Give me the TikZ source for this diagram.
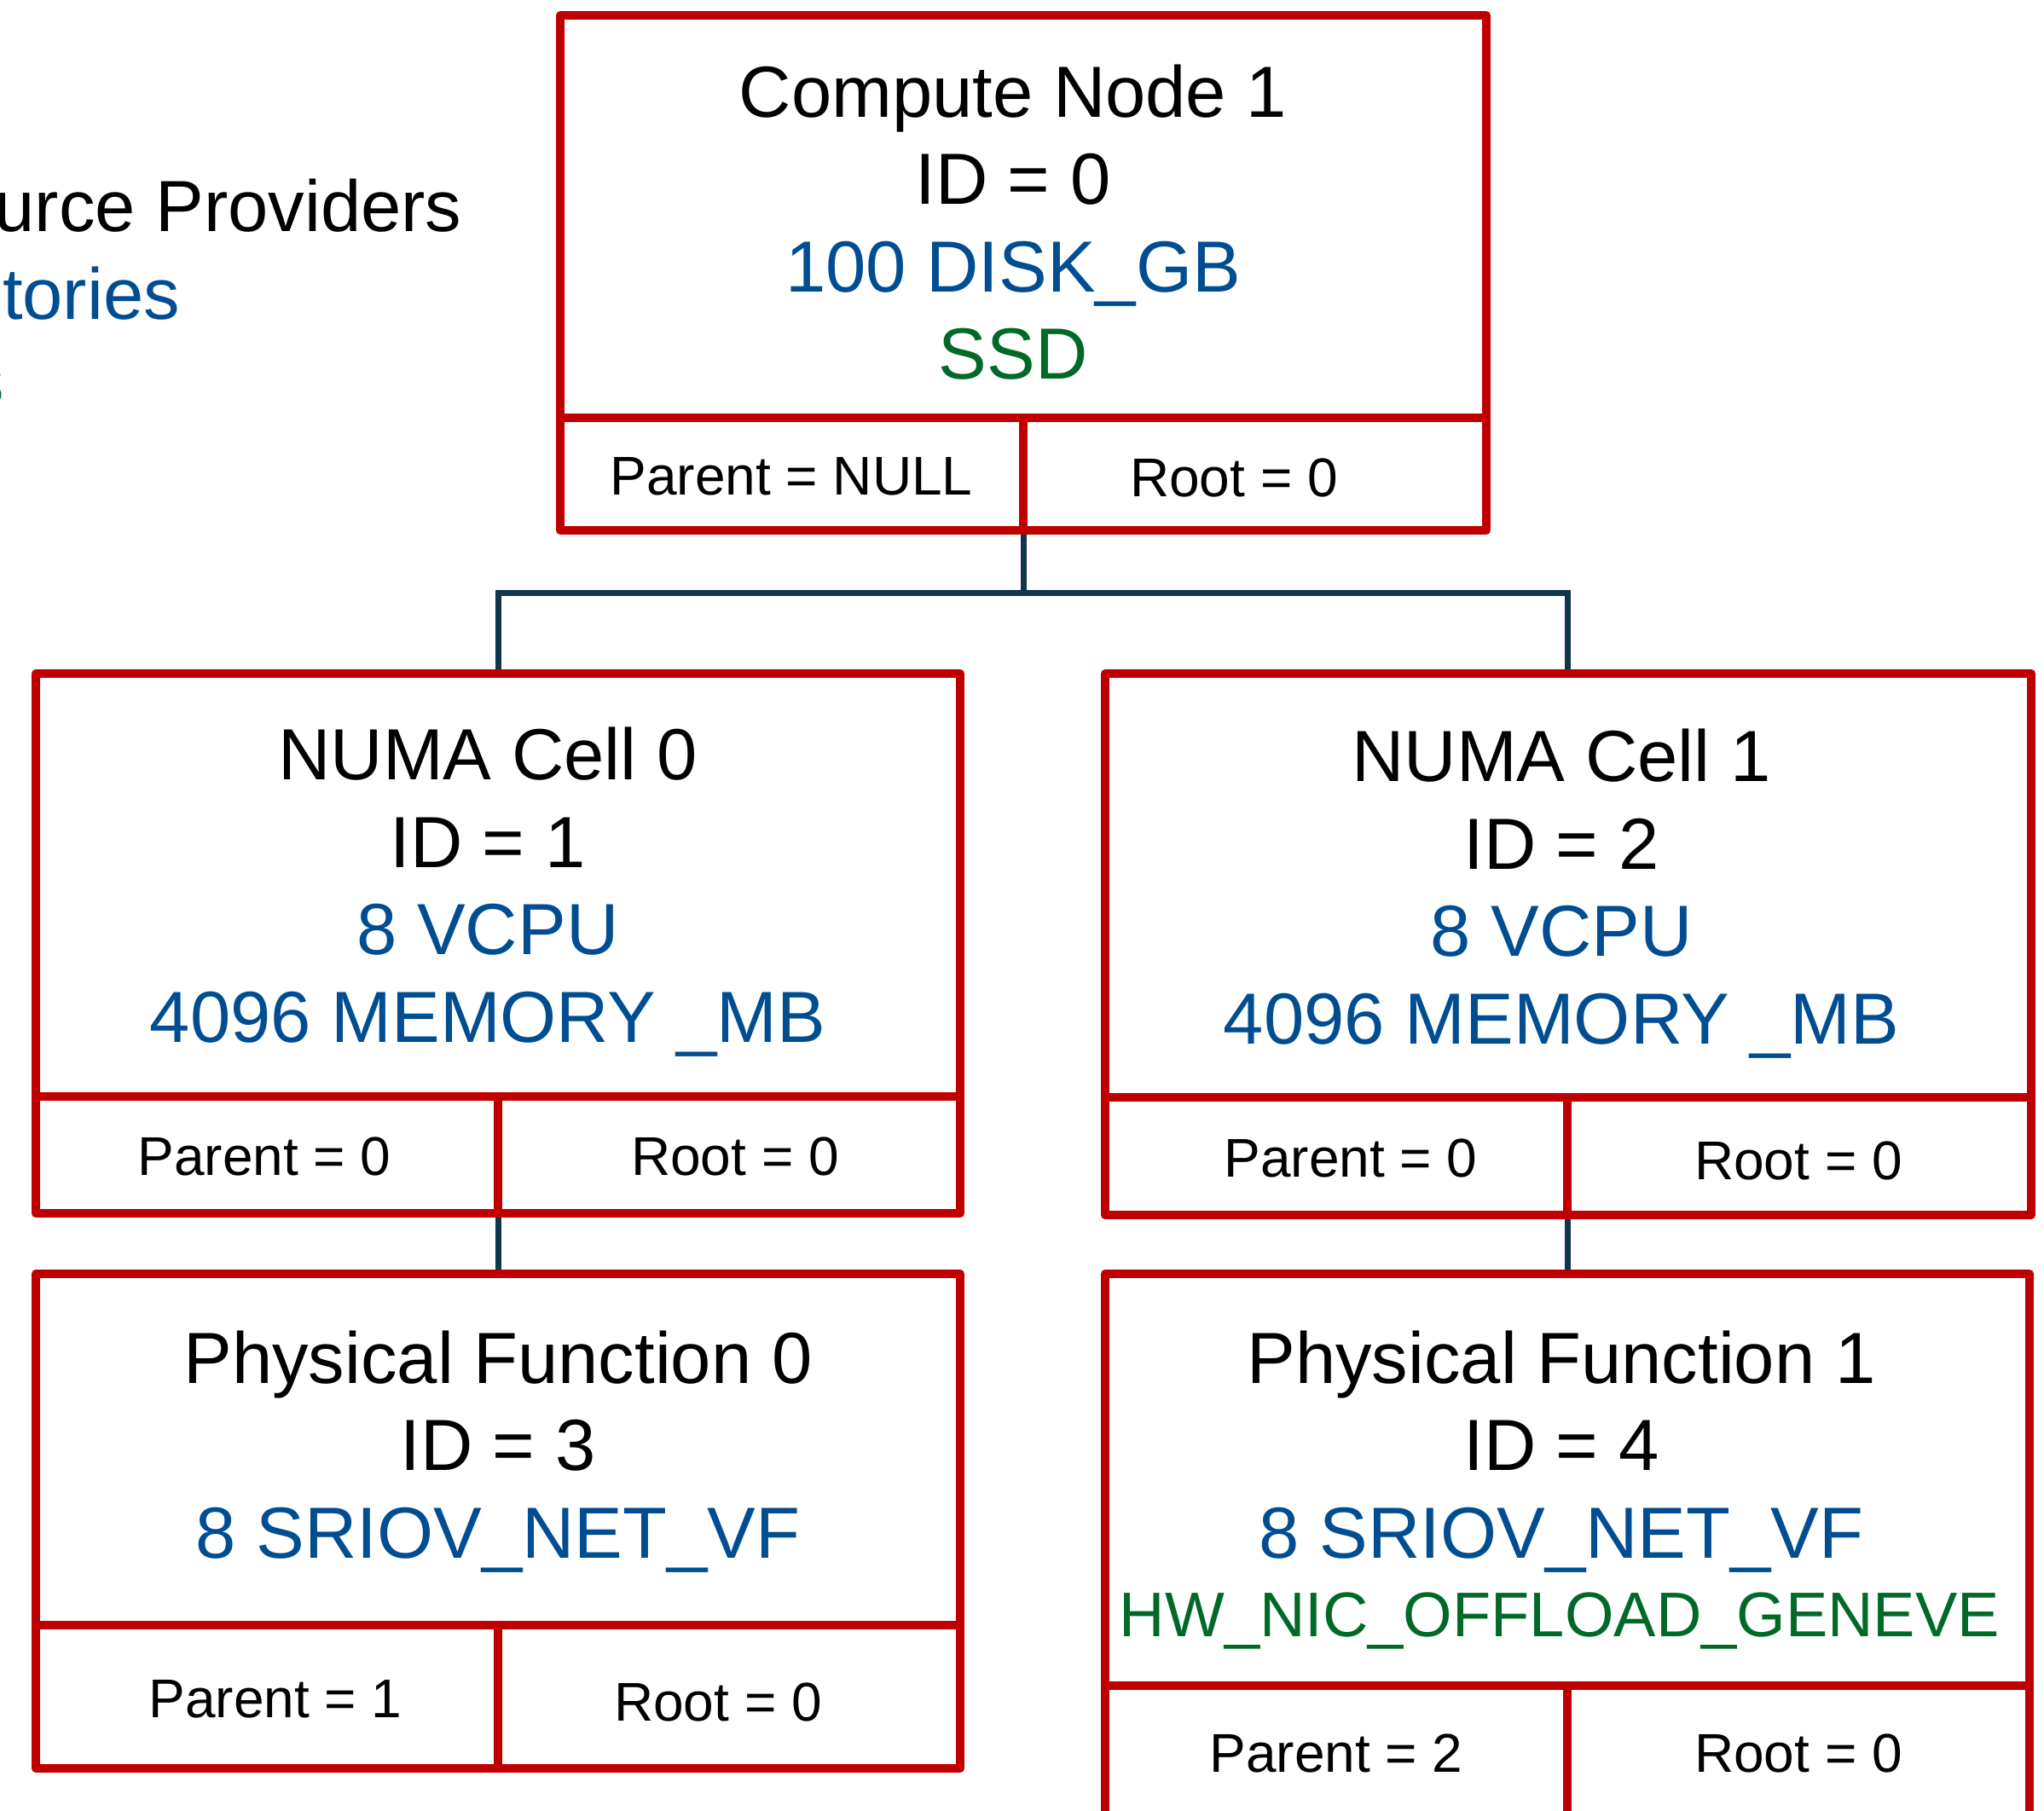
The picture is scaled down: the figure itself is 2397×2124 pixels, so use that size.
\documentclass[tikz,border=0pt]{standalone}
\usepackage{fontspec}
\setmainfont{Liberation Sans}
\usetikzlibrary{fit}
\definecolor{boxred}{RGB}{192,0,0}
\definecolor{connblue}{RGB}{16,54,78}
\definecolor{txtblue}{RGB}{0,78,145}
\definecolor{txtgreen}{RGB}{0,105,40}
\begin{document}
\begin{tikzpicture}[x=1pt,y=-1pt,
  cellbox/.style={draw=boxred, line width=10pt, line join=round, fill=white, inner sep=0pt, outer sep=0pt, rectangle},
  conn/.style={draw=connblue, line width=7pt},
  bigtxt/.style={font=\fontsize{85}{102}\selectfont, anchor=base, inner sep=0pt},
  smalltxt/.style={font=\fontsize{64}{77}\selectfont, anchor=base, inner sep=0pt},
  hwtxt/.style={font=\fontsize{74}{88}\selectfont, anchor=base, inner sep=0pt}]
\useasboundingbox (0,0) rectangle (2397,2124);
\clip (0,0) rectangle (2397,2124);
\fill[white] (0,0) rectangle (2397,2124);

% legend (clipped at left edge)
\node[bigtxt, anchor=base west] (lg1) at (-205,272) {Resource Providers};
\node[bigtxt, anchor=base west, text=txtblue] (lg2) at (-205,374) {Inventories};
\node[bigtxt, anchor=base west, text=txtgreen] (lg3) at (-205,475) {Traits};

% connectors
\coordinate (jn) at (1200,695);
\coordinate (n1top) at (1838,790);
\coordinate (p1top) at (1838,1494);
\draw[conn] (1200,622) -- (jn);
\draw[conn] (jn) -| (584,790);
\draw[conn] (jn) -| (n1top);
\draw[conn] (584,1423) -- (584,1494);
\draw[conn] (1838,1425) -- (p1top);

% boxes
\node[cellbox, fit={(657,18) (1743,490)}] (topU) {};
\node[cellbox, fit={(657,490) (1200,622)}] (topL) {};
\node[cellbox, fit={(1200,490) (1743,622)}] (topR) {};

\node[cellbox, fit={(42,790) (1126,1286)}] (n0U) {};
\node[cellbox, fit={(42,1286) (584,1423)}] (n0L) {};
\node[cellbox, fit={(584,1286) (1126,1423)}] (n0R) {};

\node[cellbox, fit={(1296,790) (2382,1287)}] (n1U) {};
\node[cellbox, fit={(1296,1287) (1838,1425)}] (n1L) {};
\node[cellbox, fit={(1838,1287) (2382,1425)}] (n1R) {};

\node[cellbox, fit={(42,1494) (1126,1906)}] (p0U) {};
\node[cellbox, fit={(42,1906) (584,2074)}] (p0L) {};
\node[cellbox, fit={(584,1906) (1126,2074)}] (p0R) {};

\node[cellbox, fit={(1296,1494) (2380,1977)}] (p1U) {};
\node[cellbox, fit={(1296,1977) (1838,2150)}] (p1L) {};
\node[cellbox, fit={(1838,1977) (2380,2150)}] (p1R) {};

% top box text
\node[bigtxt] (t1) at (1188,138) {Compute Node 1};
\node[bigtxt] (t2) at (1188,240) {ID = 0};
\node[bigtxt, text=txtblue] (t3) at (1188,342) {100 DISK\_GB};
\node[bigtxt, text=txtgreen] (t4) at (1188,444) {SSD};
\node[smalltxt] (t5) at (928,580) {Parent = NULL};
\node[smalltxt] (t6) at (1447,582) {Root = 0};

% NUMA 0
\node[bigtxt] (a1) at (572,914) {NUMA Cell 0};
\node[bigtxt] (a2) at (572,1017) {ID = 1};
\node[bigtxt, text=txtblue] (a3) at (572,1119) {8 VCPU};
\node[bigtxt, text=txtblue] (a4) at (572,1222) {4096 MEMORY \_MB};
\node[smalltxt] (a5) at (310,1378) {Parent = 0};
\node[smalltxt] (a6) at (862,1378) {Root = 0};

% NUMA 1
\node[bigtxt] (b1) at (1831,916) {NUMA Cell 1};
\node[bigtxt] (b2) at (1831,1019) {ID = 2};
\node[bigtxt, text=txtblue] (b3) at (1831,1121) {8 VCPU};
\node[bigtxt, text=txtblue] (b4) at (1831,1224) {4096 MEMORY \_MB};
\node[smalltxt] (b5) at (1584,1380) {Parent = 0};
\node[smalltxt] (b6) at (2109,1383) {Root = 0};

% PF 0
\node[bigtxt] (c1) at (584,1622) {Physical Function 0};
\node[bigtxt] (c2) at (584,1724) {ID = 3};
\node[bigtxt, text=txtblue] (c3) at (584,1827) {8 SRIOV\_NET\_VF};
\node[smalltxt] (c5) at (323,2014) {Parent = 1};
\node[smalltxt] (c6) at (842,2018) {Root = 0};

% PF 1
\node[bigtxt] (d1) at (1831,1622) {Physical Function 1};
\node[bigtxt] (d2) at (1831,1724) {ID = 4};
\node[bigtxt, text=txtblue] (d3) at (1831,1827) {8 SRIOV\_NET\_VF};
\node[hwtxt, text=txtgreen] (d4) at (1829,1919) {HW\_NIC\_OFFLOAD\_GENEVE};
\node[smalltxt] (d5) at (1567,2078) {Parent = 2};
\node[smalltxt] (d6) at (2109,2078) {Root = 0};
\end{tikzpicture}
\end{document}
